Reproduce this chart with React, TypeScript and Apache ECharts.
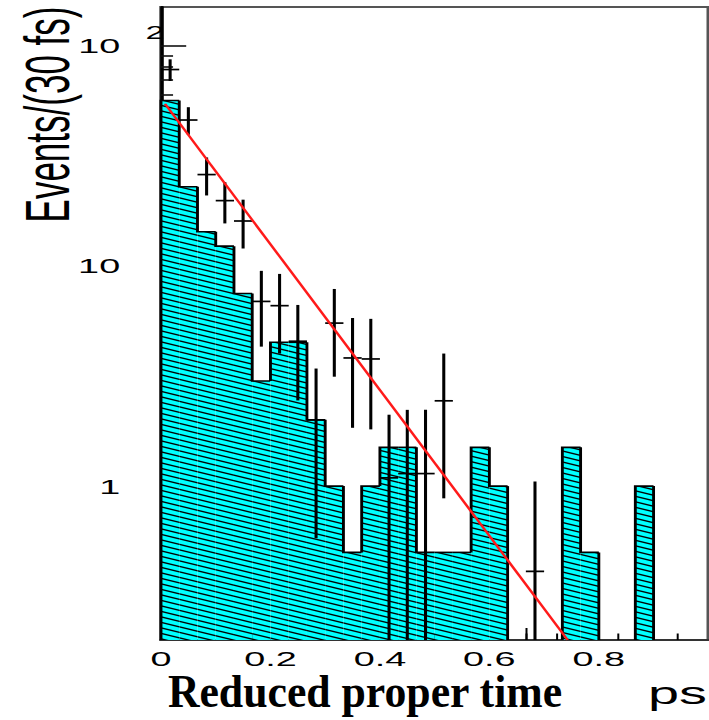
import React, { useEffect, useRef } from "react";
import * as echarts from "echarts";

// ---------- data ----------
// histogram (simulation), 30 bins of 1/30 over [0,1]; null = empty bin
const BIN_WIDTH = 1 / 30;
const HIST_COUNTS: (number | null)[] = [
  56.4, 22.9, 14.3, 12.3, 7.5, 3.0, 4.5, 4.5, 2.0, 1.0,
  0.5, 1.0, 1.5, 1.5, 0.5, 0.5, 0.5, 1.5, 1.0, null,
  null, null, 1.5, 0.5, null, null, 1.0, null, null, null,
];
// data points: bin index, value, error
const POINT_BINS = [0, 1, 2, 3, 4, 5, 6, 7, 8, 9, 10, 11, 12, 13, 14, 15, 20];
const POINT_VALUES = [78, 46, 26, 19.8, 16, 6.9, 6.6, 4.55, 2.0, 5.5, 3.82, 3.78, 1.09, 1.14, 1.14, 2.44, 0.41];
const POINT_ERRORS = [8.8, 6.6, 5.1, 4.2, 4.0, 2.6, 2.6, 2.1, 1.42, 2.36, 1.98, 1.97, 1.02, 1.08, 1.08, 1.56, 0.64];
// exponential fit line (straight on the log axis)
const FIT_T = [0.0073, 0.743];
const FIT_N = [54.5, 0.2];
// axes
const X_LABELS = [0, 0.2, 0.4, 0.6, 0.8];
const X_MINOR_TICKS = [1 / 18, 2 / 18, 3 / 18, 4 / 18, 5 / 18, 6 / 18, 7 / 18, 8 / 18, 9 / 18, 10 / 18, 11 / 18, 12 / 18, 13 / 18, 14 / 18, 15 / 18, 16 / 18, 17 / 18];
const X_MAJOR_TICKS = [4 / 18, 8 / 18, 12 / 18, 16 / 18];
const Y_LABELS = [1, 10, 100];
const Y_MINOR_TICKS = [0.3, 0.4, 0.5, 0.6, 0.7, 0.8, 0.9, 2, 3, 4, 5, 6, 7, 8, 9, 20, 30, 40, 50, 60, 70, 80, 90];
const X_MIN = 0, X_MAX = 1;
const Y_MIN = 0.2, Y_MAX = 150;

// ---------- layout (drawn narrow, stretched horizontally like the original) ----------
const SX = 1.8;
const CW = 393.8;
const CH = 720;
const FONT = "Liberation Sans";

function makeHatch() {
  const W = 25, H = 11, R = 4;
  const c = document.createElement("canvas");
  c.width = W * R;
  c.height = H * R;
  const g = c.getContext("2d")!;
  g.fillStyle = "#00ffff";
  g.fillRect(0, 0, c.width, c.height);
  g.strokeStyle = "#000";
  g.lineWidth = 1.3 * R;
  const slope = H / W;
  for (let k = -3; k <= 3; k++) {
    const y0 = k * (H / 2) * R;
    g.beginPath();
    g.moveTo(-R, y0 - slope * R);
    g.lineTo((W + 1) * R, y0 + (H + slope) * R);
    g.stroke();
  }
  return { image: c, repeat: "repeat", imageWidth: W, imageHeight: H };
}

function buildOption() {
  const hatch = makeHatch();
  const histData = HIST_COUNTS.map((v, i) => (v == null ? null : [i * BIN_WIDTH, v, i])).filter(
    (d) => d != null
  ) as number[][];
  const pointData = POINT_BINS.map((b, k) => [(b + 0.5) * BIN_WIDTH, POINT_VALUES[k], POINT_ERRORS[k]]);
  const fitData = FIT_T.map((t, k) => [t, FIT_N[k]]);

  const yLabelRich = {
    a: { fontFamily: FONT, fontSize: 21, color: "#000", padding: [0, 14, 0, 0], verticalAlign: "middle" },
    s: { fontFamily: FONT, fontSize: 19, lineHeight: 19, color: "#000", padding: [0, 0, 26, 0], verticalAlign: "middle" },
    b: { fontFamily: FONT, fontSize: 21, color: "#000", padding: [0, 24.7, 0, 0], verticalAlign: "middle" },
  };

  return {
    animation: false,
    backgroundColor: "#fff",
    grid: {
      left: 161 / SX,
      right: 0.3,
      top: 7,
      bottom: 80,
      show: true,
      borderColor: "#555",
      borderWidth: 2,
    },
    xAxis: [
      {
        type: "value",
        min: X_MIN,
        max: X_MAX,
        position: "bottom",
        axisLine: { show: true, onZero: false, lineStyle: { color: "#333", width: 2 } },
        splitLine: { show: false },
        axisTick: { show: true, inside: true, length: 6.5, customValues: X_MINOR_TICKS, lineStyle: { color: "#000", width: 1.1 } },
        axisLabel: {
          customValues: X_LABELS,
          formatter: (v: number) => String(v),
          fontFamily: FONT,
          fontSize: 21,
          color: "#000",
          margin: 8,
        },
      },
      {
        type: "value",
        min: X_MIN,
        max: X_MAX,
        position: "bottom",
        axisLine: { show: false, onZero: false },
        splitLine: { show: false },
        axisLabel: { show: false },
        axisTick: { show: true, inside: true, length: 12, customValues: X_MAJOR_TICKS, lineStyle: { color: "#000", width: 1.1 } },
      },
    ],
    yAxis: [
      {
        type: "log",
        logBase: 10,
        min: Y_MIN,
        max: Y_MAX,
        position: "left",
        axisLine: { show: true, onZero: false, lineStyle: { color: "#000", width: 2 } },
        splitLine: { show: false },
        axisTick: { show: true, inside: true, length: 14, customValues: Y_LABELS, lineStyle: { color: "#111", width: 1.6 } },
        axisLabel: {
          customValues: Y_LABELS,
          margin: -2,
          formatter: (v: number) => {
            if (Math.abs(v - 100) < 1e-6) return "{a|10}{s|2}";
            if (Math.abs(v - 10) < 1e-6) return "{b|10}";
            if (Math.abs(v - 1) < 1e-6) return "{b|1}";
            return "";
          },
          rich: yLabelRich,
        },
      },
      {
        type: "log",
        logBase: 10,
        min: Y_MIN,
        max: Y_MAX,
        position: "left",
        axisLine: { show: false, onZero: false },
        splitLine: { show: false },
        axisLabel: { show: false },
        axisTick: { show: true, inside: true, length: 6.7, customValues: Y_MINOR_TICKS, lineStyle: { color: "#111", width: 1.6 } },
      },
    ],
    series: [
      {
        type: "custom",
        name: "simulation",
        xAxisIndex: 0,
        yAxisIndex: 0,
        z: 2,
        data: histData,
        renderItem: (params: any, api: any) => {
          const x0 = api.value(0) as number;
          const v = api.value(1) as number;
          const i = api.value(2) as number;
          const x1 = x0 + BIN_WIDTH;
          const tl = api.coord([x0, v]);
          const br = api.coord([x1, Y_MIN]);
          const prev = i > 0 ? HIST_COUNTS[i - 1] : null;
          const next = i + 1 < HIST_COUNTS.length ? HIST_COUNTS[i + 1] : null;
          const yPrev = prev == null ? br[1] : api.coord([x0, prev])[1];
          const children: any[] = [
            {
              type: "rect",
              shape: { x: tl[0], y: tl[1], width: br[0] - tl[0], height: br[1] - tl[1] },
              style: { fill: hatch },
            },
            {
              type: "polyline",
              shape: { points: [[tl[0], yPrev], [tl[0], tl[1]], [br[0], tl[1]]] },
              style: { fill: "none", stroke: "#000", lineWidth: 1.6 },
            },
          ];
          if (next == null) {
            children.push({
              type: "line",
              shape: { x1: br[0], y1: tl[1], x2: br[0], y2: br[1] },
              style: { stroke: "#000", lineWidth: 1.6 },
            });
          }
          return { type: "group", children };
        },
      },
      {
        type: "custom",
        name: "data",
        xAxisIndex: 0,
        yAxisIndex: 0,
        z: 3,
        data: pointData,
        renderItem: (params: any, api: any) => {
          const xc = api.value(0) as number;
          const v = api.value(1) as number;
          const s = api.value(2) as number;
          const hi = Math.min(v + s, Y_MAX);
          const lo = Math.max(v - s, Y_MIN);
          const c = api.coord([xc, v]);
          const top = api.coord([xc, hi]);
          const bot = api.coord([xc, lo]);
          const xl = api.coord([xc - BIN_WIDTH / 2, v])[0];
          const xr = api.coord([xc + BIN_WIDTH / 2, v])[0];
          return {
            type: "group",
            children: [
              { type: "line", shape: { x1: c[0], y1: top[1], x2: c[0], y2: bot[1] }, style: { stroke: "#000", lineWidth: 1.7 } },
              { type: "line", shape: { x1: xl, y1: c[1], x2: xr, y2: c[1] }, style: { stroke: "#000", lineWidth: 1.7 } },
            ],
          };
        },
      },
      {
        type: "line",
        name: "fit",
        xAxisIndex: 0,
        yAxisIndex: 0,
        z: 4,
        data: fitData,
        showSymbol: false,
        symbol: "none",
        lineStyle: { color: "#ff1a1a", width: 1.6 },
      },
    ],
    graphic: [
      {
        type: "text",
        x: 26.4,
        y: 114.5,
        rotation: Math.PI / 2,
        style: {
          text: "Events/(30 fs)",
          fontFamily: FONT,
          fontSize: 35,
          fill: "#000",
          align: "center",
          verticalAlign: "middle",
          textAlign: "center",
          textVerticalAlign: "middle",
        },
      },
      {
        type: "text",
        x: 365 / SX,
        y: 691,
        scaleX: 0.517,
        style: {
          text: "Reduced proper time",
          fontFamily: "Liberation Serif",
          fontWeight: "bold",
          fontSize: 47,
          fill: "#000",
          align: "center",
          verticalAlign: "middle",
          textAlign: "center",
          textVerticalAlign: "middle",
          shadowColor: "rgba(0,0,0,0.35)",
          shadowBlur: 2,
          shadowOffsetX: 1.7,
          shadowOffsetY: 3,
        },
      },
      {
        type: "text",
        x: 677.5 / SX,
        y: 693,
        style: {
          text: "ps",
          fontFamily: FONT,
          fontSize: 31,
          fill: "#000",
          align: "center",
          verticalAlign: "middle",
          textAlign: "center",
          textVerticalAlign: "middle",
        },
      },
    ],
  };
}

export default function App() {
  const ref = useRef<HTMLDivElement>(null);
  useEffect(() => {
    document.body.style.margin = "0";
    document.body.style.overflow = "hidden";
    const chart = echarts.init(ref.current!, null, { renderer: "svg", width: CW, height: CH });
    chart.setOption(buildOption() as any);
    return () => chart.dispose();
  }, []);
  return (
    <div
      ref={ref}
      style={{
        position: "fixed",
        left: 0,
        top: 0,
        width: CW,
        height: CH,
        transform: `scaleX(${SX})`,
        transformOrigin: "0 0",
        background: "#fff",
      }}
    />
  );
}
